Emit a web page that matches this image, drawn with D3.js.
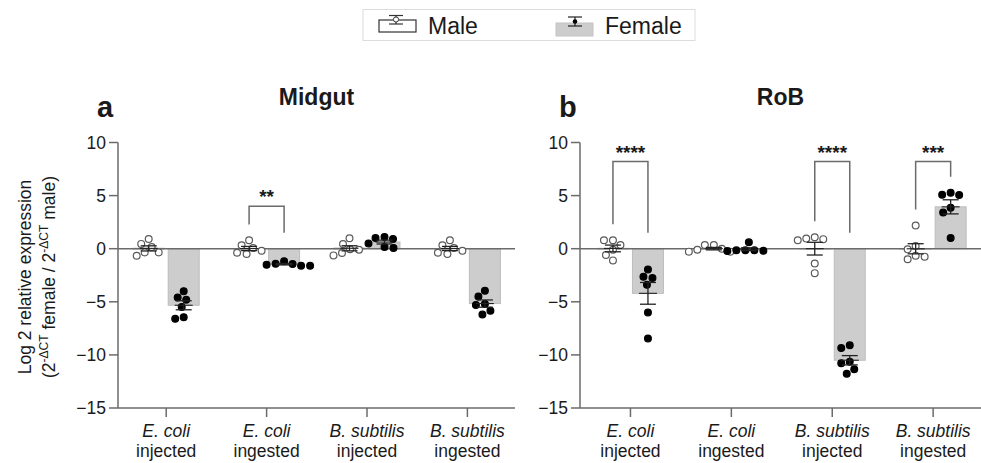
<!DOCTYPE html>
<html>
<head>
<meta charset="utf-8">
<script src="https://cdn.jsdelivr.net/npm/d3@7"></script>
<style>
  html, body { margin: 0; padding: 0; background: #fff; }
  svg { display: block; }
  text { font-family: "Liberation Sans", Arial, Helvetica, sans-serif; fill: #1a1a1a; }
</style>
</head>
<body>
<svg id="chart" width="981" height="463"></svg>
<script>
// ---------------- DATA ----------------
const catSpecies = ["E. coli", "E. coli", "B. subtilis", "B. subtilis"];
const catRoute   = ["injected", "ingested", "injected", "ingested"];
const yTicks = [10, 5, 0, -5, -10, -15];

// Midgut (panel a): individual log2 values per category
const midgutMale = [
  [0.92, 0.45, 0.16, -0.35, -0.66, -0.35],
  [0.79, 0.32, 0.06, -0.19, -0.50, -0.38],
  [0.98, 0.44, -0.10, -0.05, -0.63, -0.41],
  [0.79, 0.32, 0.07, -0.19, -0.50, -0.38]
];
const midgutFemale = [
  [-4.00, -4.60, -4.80, -5.50, -6.60, -6.45],
  [-1.60, -1.17, -1.52, -1.42, -1.60, -1.45],
  [1.00, 1.10, 0.92, 0.50, 0.07, 0.16],
  [-3.95, -4.50, -5.20, -5.30, -5.85, -6.20]
];
// RoB (panel b)
const robMale = [
  [0.80, 0.80, 0.35, -0.10, -0.60, -1.10],
  [0.35, -0.28, 0.00, 0.35, -0.28, -0.10],
  [0.90, 1.08, 0.80, 0.95, -1.40, -2.30],
  [2.18, 0.25, -0.06, -0.66, -1.00, -0.75]
];
const robFemale = [
  [-1.95, -2.65, -2.77, -3.40, -6.00, -8.45],
  [-0.22, -0.15, -0.15, 0.60, -0.15, -0.20],
  [-9.36, -9.10, -10.78, -10.65, -11.35, -11.78],
  [5.27, 5.05, 5.08, 3.85, 3.40, 1.00]
];
// significance annotations (category index, label, bracket level in data units)
const midgutSigCats = [1];
const midgutSigLabels = ["**"];
const midgutSigLevels = [4.0];
const robSigCats = [0, 2, 3];
const robSigLabels = ["****", "****", "***"];
const robSigLevels = [8.2, 8.2, 8.2];

// ---------------- DRAW ----------------
const svg = d3.select("#chart");
const AXIS = "#6b6b6b";
const BAR_FILL = "#cdcdcd";
const y = d3.scaleLinear().domain([-15, 10]).range([408, 142.5]);

function swarm(values, cx, d) {
  const pts = values.map(v => ({ v, py: y(v) })).sort((a, b) => a.py - b.py);
  const placed = [];
  pts.forEach(p => {
    const cands = [0];
    for (let s = 1; s < 200; s++) { cands.push(-s * 0.5, s * 0.5); }
    for (const off of cands) {
      const ok = placed.every(q => Math.hypot(q.off - off, q.py - p.py) >= d);
      if (ok) { p.off = off; break; }
    }
    placed.push(p);
  });
  return placed.map(p => ({ v: p.v, px: cx + p.off, py: p.py }));
}

function panel(opts) {
  const g = svg.append("g");
  const x = d3.scalePoint().domain(d3.range(catSpecies.length))
    .range([opts.x0, opts.x1]).padding(0.5);
  const axL = opts.axisLeft, axR = opts.axisRight;
  const off = 17.5, bw = 31;

  const groups = [];
  catSpecies.forEach((c, i) => {
    [["m", opts.male[i], -off], ["f", opts.female[i], off]].forEach(([sex, vals, o]) => {
      const mean = d3.mean(vals);
      const sem = d3.deviation(vals) / Math.sqrt(vals.length);
      groups.push({ i, sex, vals, mean, sem, cx: x(i) + o });
    });
  });
  g.selectAll("rect.bar").data(groups).join("rect")
    .attr("x", d => d.cx - bw / 2)
    .attr("width", bw)
    .attr("y", d => Math.min(y(d.mean), y(0)))
    .attr("height", d => Math.abs(y(d.mean) - y(0)))
    .attr("fill", d => d.sex === "f" ? BAR_FILL : "#fff")
    .attr("stroke", d => d.sex === "f" ? "#bdbdbd" : "#555")
    .attr("stroke-width", 1);

  // axes
  g.append("line").attr("x1", axL).attr("x2", axL).attr("y1", y(10)).attr("y2", y(-15))
    .attr("stroke", AXIS).attr("stroke-width", 1.5);
  g.append("line").attr("x1", axL).attr("x2", axR).attr("y1", y(-15)).attr("y2", y(-15))
    .attr("stroke", AXIS).attr("stroke-width", 1.5);
  g.append("line").attr("x1", axL).attr("x2", axR).attr("y1", y(0)).attr("y2", y(0))
    .attr("stroke", AXIS).attr("stroke-width", 1.5);
  yTicks.forEach(t => {
    g.append("line").attr("x1", axL - 9).attr("x2", axL).attr("y1", y(t)).attr("y2", y(t))
      .attr("stroke", AXIS).attr("stroke-width", 1.5);
    g.append("text").attr("x", axL - 12).attr("y", y(t)).attr("dy", "0.36em")
      .attr("text-anchor", "end").style("font-size", "17.5px")
      .text(t < 0 ? "\u2212" + Math.abs(t) : String(t));
  });
  catSpecies.forEach((c, i) => {
    g.append("line").attr("x1", x(i)).attr("x2", x(i)).attr("y1", y(-15)).attr("y2", y(-15) + 9)
      .attr("stroke", AXIS).attr("stroke-width", 1.5);
    g.append("text").attr("x", x(i)).attr("y", 436.5).attr("text-anchor", "middle")
      .style("font-size", "17.5px").style("font-style", "italic").text(c);
    g.append("text").attr("x", x(i)).attr("y", 456.5).attr("text-anchor", "middle")
      .style("font-size", "17.5px").text(catRoute[i]);
  });

  // points
  groups.forEach(d => {
    const pts = swarm(d.vals, d.cx, 8.6);
    g.selectAll(null).data(pts).join("circle")
      .attr("cx", p => p.px).attr("cy", p => p.py).attr("r", 3.4)
      .attr("fill", d.sex === "f" ? "#000" : "#fff")
      .attr("stroke", d.sex === "f" ? "#000" : "#5a5a5a")
      .attr("stroke-width", 1.2);
  });

  // error bars (mean ± SEM)
  groups.forEach(d => {
    const top = y(d.mean + d.sem), bot = y(d.mean - d.sem);
    const col = "#222";
    g.append("line").attr("x1", d.cx).attr("x2", d.cx).attr("y1", top).attr("y2", bot)
      .attr("stroke", col).attr("stroke-width", 1.3);
    [top, bot].forEach(yy => g.append("line").attr("x1", d.cx - 8).attr("x2", d.cx + 8)
      .attr("y1", yy).attr("y2", yy).attr("stroke", col).attr("stroke-width", 1.3));
    g.append("line").attr("x1", d.cx - 9).attr("x2", d.cx + 9)
      .attr("y1", y(d.mean)).attr("y2", y(d.mean)).attr("stroke", col).attr("stroke-width", 1.1);
  });

  // significance brackets
  opts.sigCats.forEach((ci, k) => {
    const m = groups.find(d => d.i === ci && d.sex === "m");
    const f = groups.find(d => d.i === ci && d.sex === "f");
    const legM = Math.max(d3.max(m.vals), m.mean + m.sem, 0) + 1.5;
    const legF = Math.max(d3.max(f.vals), f.mean + f.sem, 0) + 1.5;
    const lvl = opts.sigLevels[k];
    g.append("path")
      .attr("d", `M${m.cx},${y(legM)}V${y(lvl)}H${f.cx}V${y(legF)}`)
      .attr("fill", "none").attr("stroke", AXIS).attr("stroke-width", 1.5);
    g.append("text").attr("x", (m.cx + f.cx) / 2).attr("y", y(lvl) - 3)
      .attr("text-anchor", "middle").style("font-size", "19px").style("font-weight", "bold")
      .text(opts.sigLabels[k]);
  });

  // title + letter
  g.append("text").attr("x", (axL + axR) / 2).attr("y", 105).attr("text-anchor", "middle")
    .style("font-size", "23px").style("font-weight", "bold").text(opts.title);
  g.append("text").attr("x", axL - 21).attr("y", 117)
    .style("font-size", "29px").style("font-weight", "bold").text(opts.letter);
}

panel({ x0: 116, x1: 517.6, axisLeft: 118, axisRight: 515, male: midgutMale, female: midgutFemale,
  sigCats: midgutSigCats, sigLabels: midgutSigLabels, sigLevels: midgutSigLevels,
  title: "Midgut", letter: "a" });
panel({ x0: 580, x1: 983.6, axisLeft: 580, axisRight: 981, male: robMale, female: robFemale,
  sigCats: robSigCats, sigLabels: robSigLabels, sigLevels: robSigLevels,
  title: "RoB", letter: "b" });

// y-axis label
const yl = svg.append("g").attr("transform", "translate(0,277) rotate(-90)");
yl.append("text").attr("x", 0).attr("y", 31).attr("text-anchor", "middle")
  .style("font-size", "17.5px").text("Log 2 relative expression");
const l2 = yl.append("text").attr("x", 0).attr("y", 55).attr("text-anchor", "middle")
  .style("font-size", "17.5px");
l2.append("tspan").text("(2");
l2.append("tspan").attr("dy", -7).style("font-size", "12px").text("-\u0394CT");
l2.append("tspan").attr("dy", 7).text(" female / 2");
l2.append("tspan").attr("dy", -7).style("font-size", "12px").text("-\u0394CT");
l2.append("tspan").attr("dy", 7).text(" male)");

// legend
const lg = svg.append("g");
lg.append("rect").attr("x", 363).attr("y", 9.5).attr("width", 332).attr("height", 31)
  .attr("fill", "#fff").attr("stroke", "#dcdcdc").attr("stroke-width", 1);
lg.append("rect").attr("x", 379).attr("y", 20).attr("width", 37).attr("height", 12)
  .attr("fill", "#fff").attr("stroke", "#333").attr("stroke-width", 1.2);
lg.append("line").attr("x1", 389).attr("x2", 403).attr("y1", 15.5).attr("y2", 15.5).attr("stroke", "#333").attr("stroke-width", 1.2);
lg.append("line").attr("x1", 396).attr("x2", 396).attr("y1", 15.5).attr("y2", 24).attr("stroke", "#333").attr("stroke-width", 1.2);
lg.append("line").attr("x1", 389).attr("x2", 403).attr("y1", 24).attr("y2", 24).attr("stroke", "#333").attr("stroke-width", 1.2);
lg.append("circle").attr("cx", 396).attr("cy", 19.5).attr("r", 2.6).attr("fill", "#fff").attr("stroke", "#333").attr("stroke-width", 1);
lg.append("text").attr("x", 428).attr("y", 33.5).style("font-size", "23px").text("Male");
lg.append("rect").attr("x", 556).attr("y", 23).attr("width", 37).attr("height", 13)
  .attr("fill", BAR_FILL).attr("stroke", "#c4c4c4").attr("stroke-width", 1);
lg.append("line").attr("x1", 568).attr("x2", 582).attr("y1", 17).attr("y2", 17).attr("stroke", "#222").attr("stroke-width", 1.2);
lg.append("line").attr("x1", 575).attr("x2", 575).attr("y1", 17).attr("y2", 26).attr("stroke", "#222").attr("stroke-width", 1.2);
lg.append("line").attr("x1", 568).attr("x2", 582).attr("y1", 26).attr("y2", 26).attr("stroke", "#222").attr("stroke-width", 1.2);
lg.append("circle").attr("cx", 575).attr("cy", 21.5).attr("r", 2.3).attr("fill", "#000");
lg.append("text").attr("x", 605).attr("y", 34).style("font-size", "23px").text("Female");
</script>
</body>
</html>
